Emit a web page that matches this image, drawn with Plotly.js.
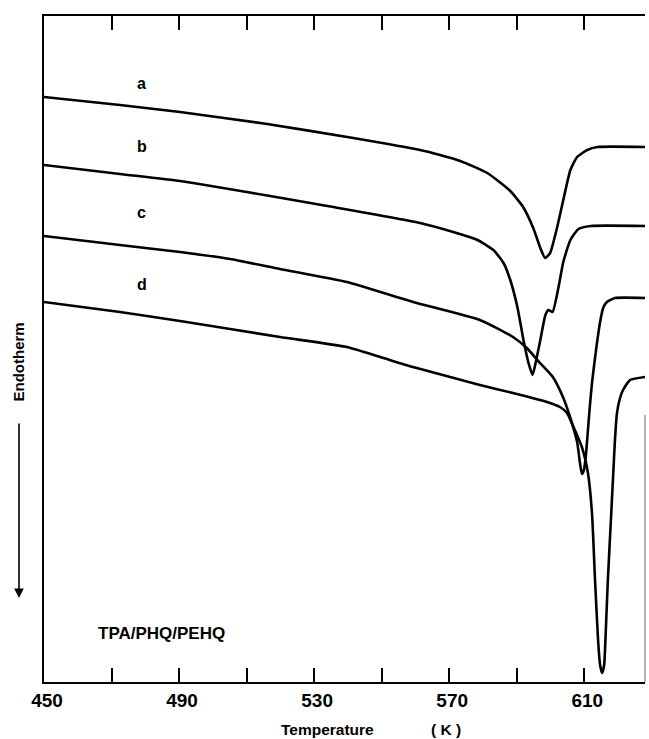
<!DOCTYPE html>
<html>
<head>
<meta charset="utf-8">
<script src="https://cdn.plot.ly/plotly-3.0.1.min.js"></script>
<style>html,body{margin:0;padding:0;background:#fff;}#chart{width:649px;height:739px;}</style>
</head>
<body>
<div id="chart"></div>
<script>
// DSC traces (temperature in K, signal in arbitrary units, endotherm down)
const tempA = [450,472.5,490.3,516.1,541.6,561.4,567.3,573.3,581.3,588.1,591.9,594.9,597.0,598.4,599.9,602.0,603.8,605.9,607.9,610.9,613.9,628];
const sigA  = [585,577,570,558,544,532,527,521,509,491,475,454,434,424,429,455,482,512,525,532,535,535];

const tempB = [450,472.5,490.3,510.1,533.9,561.4,571.2,578.4,583.1,586.1,588.1,590.2,592.0,593.5,594.7,595.6,597.0,598.5,599.4,600.6,602.4,603.8,605.9,608.3,611.9,628];
const sigB  = [517,508,501,490,476,459,450,442,432,419,402,375,342,319,307,319,342,367,372,370,395,420,442,453,456,456];

const tempC = [450,472.5,490.3,505.1,519.9,539.7,559.3,579.1,588.9,593.0,596.9,600.7,603.7,605.8,607.9,608.7,609.3,609.9,610.5,611.1,611.7,612.3,613.5,614.7,615.6,616.7,619.1,628];
const sigC  = [446,437,430,423,413,400,380,362,345,334,319,305,285,265,240,220,208,212,227,252,277,299,332,360,374,380,384,384];

const tempD = [450,472.5,490.3,519.9,539.7,549.6,559.3,579.1,588.9,599.0,602.8,604.9,606.7,609.3,611.1,612.3,613.2,614.1,614.7,615.3,615.9,616.4,617.0,617.9,618.5,619.1,619.7,620.6,621.5,623.6,628];
const sigD  = [380,370,361,345,335,325,315,297,289,280,275,269,256,235,209,169,102,42,17,9,17,52,102,162,202,242,269,284,292,302,305];

const curveLabels = ['a','b','c','d'];
const labelTemp = [479,479,479,479];
const labelSig  = [599,536,470,398];

const tickVals = [450,470,490,510,530,550,570,590,610];
const tickText = ['450','','490','','530','','570','','610'];

const sampleName = 'TPA/PHQ/PEHQ';
const xTitle = 'Temperature';
const xUnit = '( K )';
const yTitle = 'Endotherm';

const F = 'Liberation Sans, Arial, sans-serif';
const lineStyle = {color:'#000', width:2.6, shape:'spline', smoothing:0.5};

const traces = [[tempA,sigA],[tempB,sigB],[tempC,sigC],[tempD,sigD]].map(function(p){
  return {x:p[0], y:p[1], mode:'lines', type:'scatter', line:lineStyle, hoverinfo:'skip', showlegend:false};
});

const annotations = curveLabels.map(function(t,i){
  return {x:labelTemp[i], y:labelSig[i], xref:'x', yref:'y', text:t, showarrow:false,
          xanchor:'center', yanchor:'middle',
          font:{family:F, size:16, color:'#000', weight:700}};
});
annotations.push({x:484.7, y:49, xref:'x', yref:'y', text:sampleName, showarrow:false,
  xanchor:'center', yanchor:'middle', font:{family:F, size:17, color:'#000', weight:700}});
annotations.push({x:0.4725, y:-0.072, xref:'paper', yref:'paper', text:xTitle, showarrow:false,
  xanchor:'center', yanchor:'middle', font:{family:F, size:15.5, color:'#000', weight:700}});
annotations.push({x:0.669, y:-0.072, xref:'paper', yref:'paper', text:xUnit, showarrow:false,
  xanchor:'center', yanchor:'middle', font:{family:F, size:15.5, color:'#000', weight:700}});
annotations.push({x:-0.043, y:0.48, xref:'paper', yref:'paper', text:yTitle, textangle:-90, showarrow:false,
  xanchor:'center', yanchor:'middle', font:{family:F, size:15, color:'#000', weight:700}});
annotations.push({x:-0.0416, y:0.126, xref:'paper', yref:'paper', text:'', showarrow:true,
  ax:0, ay:-176, arrowhead:2, arrowsize:1.2, arrowwidth:1.6, arrowcolor:'#000'});

const layout = {
  width:649, height:739,
  margin:{l:44, r:4, t:16, b:57},
  paper_bgcolor:'#fff', plot_bgcolor:'#fff',
  xaxis:{range:[450,628], tickvals:tickVals, ticktext:tickText, ticks:'inside', ticklen:14, tickwidth:2,
         tickcolor:'#000', showline:true, linewidth:2, linecolor:'#000', mirror:'ticks',
         showgrid:false, zeroline:false, ticklabelshift:3,
         tickfont:{family:F, size:19, color:'#000', weight:700}},
  yaxis:{range:[0,666], showticklabels:false, ticks:'', showline:true, linewidth:2, linecolor:'#000',
         mirror:false, showgrid:false, zeroline:false},
  shapes:[{type:'line', xref:'paper', yref:'paper', x0:1, x1:1, y0:0, y1:0.401,
           line:{color:'#666', width:1}}],
  annotations:annotations
};

Plotly.newPlot('chart', traces, layout, {staticPlot:true, displayModeBar:false});
</script>
</body>
</html>
